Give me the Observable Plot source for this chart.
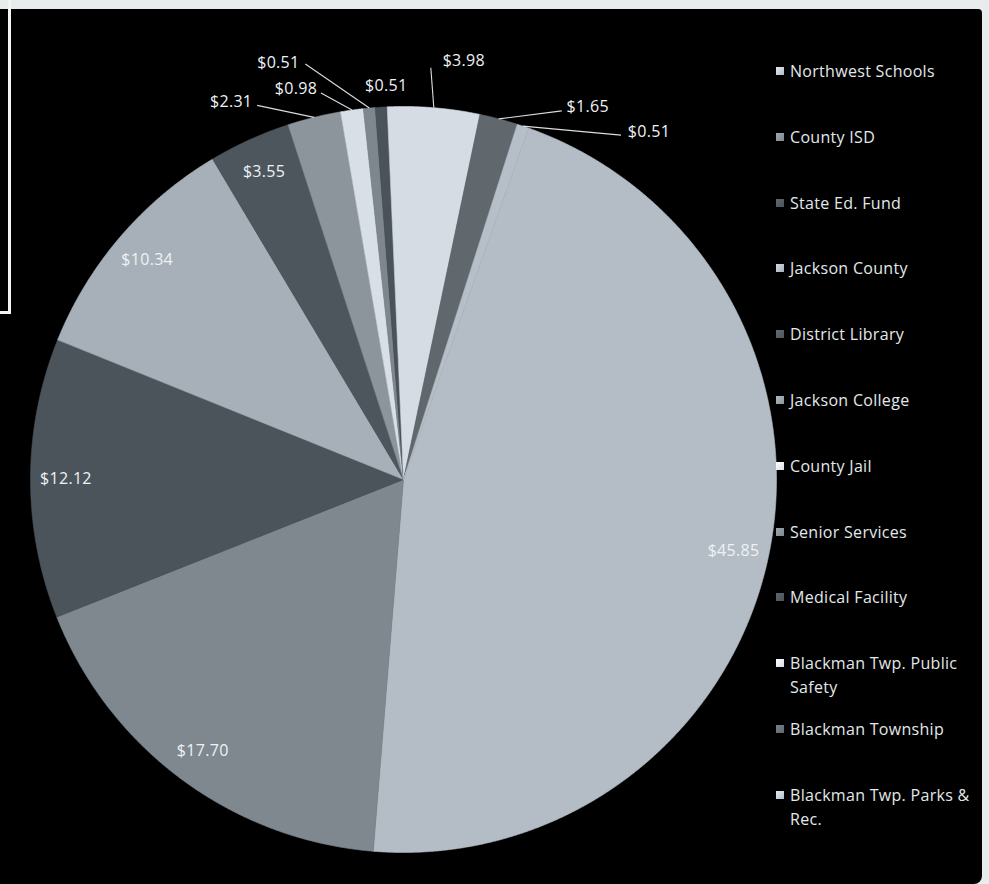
<!DOCTYPE html>
<html><head><meta charset="utf-8">
<script src="https://cdn.jsdelivr.net/npm/d3@7"></script>
<script src="https://cdn.jsdelivr.net/npm/@observablehq/plot@0.6"></script>
<style>
html,body{margin:0;padding:0;background:#000;overflow:hidden}
#wrap{position:relative;width:989px;height:884px;background:#e9ecec;overflow:hidden}
#panel{position:absolute;left:0;top:9px;width:982px;height:875px;background:#000;border-bottom-right-radius:8px;border-top-right-radius:4px}
#box{position:absolute;left:-6px;top:-6px;width:11px;height:314px;border:3px solid #f4f4f4}
#chart{position:absolute;left:0;top:0}
#legend{position:absolute;left:0;top:0;font-family:"Open Sans",sans-serif;font-size:16px;line-height:24px;color:#e3e8eb;letter-spacing:0.3px}
.item{position:absolute;left:776px;width:200px;display:flex;align-items:flex-start}
.sw{width:8px;height:8px;margin-top:8px;margin-right:6px;flex:none}
.lab{white-space:pre-line}
</style></head><body>
<div id="wrap"><div id="panel"></div><div id="box"></div><div id="chart"></div><div id="legend"></div></div>
<script>
// ---- data ----
const categories = ["Northwest Schools","County ISD","State Ed. Fund","Jackson County","District Library","Jackson College","County Jail","Senior Services","Medical Facility","Blackman Twp. Public Safety","Blackman Township","Blackman Twp. Parks & Rec."];
const values = [45.85, 17.70, 12.12, 10.34, 3.55, 2.31, 0.98, 0.51, 0.51, 3.98, 1.65, 0.51];
const colors = ["#b4bdc5","#7f888e","#4b545a","#a7b0b8","#4d565c","#8c959c","#d8dfe6","#7e878e","#4a5359","#d5dce3","#60686e","#b6bfc7"];
const legendLabels = ["Northwest Schools","County ISD","State Ed. Fund","Jackson County","District Library","Jackson College","County Jail","Senior Services","Medical Facility","Blackman Twp. Public\nSafety","Blackman Township","Blackman Twp. Parks &\nRec."];

// ---- layout (pixels) ----
const W = 989, H = 884, cx = 403, cy = 479, R = 373;
const startDeg = 19.6;
const insideR = 0.905;
// outside labels: [label dx, label dy, leader end dx, leader end dy] relative to slice edge (px); null = inside
const outside = [null,null,null,null,null,
  [-83,-15,-57,-12],
  [-56,-21,-31,-17],
  [-91,-45,-64,-44],
  [5,-21,null,null],
  [30,-47,-3,-40],
  [89,-12,63,-8],
  [126,6,98,9]];

const rows = categories.map((c,i)=>({name:c, value:values[i], color:colors[i], i}));
const a0 = startDeg*Math.PI/180;
const arcs = d3.pie().sort(null).value(d=>d.value).startAngle(a0).endAngle(a0+2*Math.PI)(rows);

const poly = [];
arcs.forEach((a,k)=>{
  const n = Math.max(3, Math.ceil((a.endAngle-a.startAngle)/(0.2*Math.PI/180)));
  poly.push({x:0,y:0,k});
  for(let j=0;j<=n;j++){const t=a.startAngle+(a.endAngle-a.startAngle)*j/n; poly.push({x:Math.sin(t),y:Math.cos(t),k});}
  poly.push({x:0,y:0,k});
});

const labels = arcs.map((a,k)=>{
  const m=(a.startAngle+a.endAngle)/2, ex=Math.sin(m), ey=Math.cos(m);
  const o=outside[k];
  if(!o) return {x:ex*insideR,y:ey*insideR,t:"$"+a.data.value.toFixed(2),k};
  return {x:ex+o[0]/R,y:ey-o[1]/R,t:"$"+a.data.value.toFixed(2),k,
    x1:ex,y1:ey,x2:o[2]==null?null:ex+o[2]/R,y2:o[3]==null?null:ey-o[3]/R};
});
const leaders = labels.filter(d=>d.x2!=null);

const chart = Plot.plot({
  width:W, height:H, margin:0,
  x:{domain:[-cx/R,(W-cx)/R], range:[0,W], axis:null},
  y:{domain:[(cy-H)/R, cy/R], range:[H,0], axis:null},
  color:{type:"identity"},
  style:{background:"transparent", fontFamily:"'Open Sans',sans-serif", letterSpacing:"0.3px", overflow:"visible"},
  marks:[
    Plot.line(poly,{x:"x",y:"y",z:"k",fill:d=>colors[d.k],stroke:d=>colors[d.k],strokeWidth:0.6,curve:"linear"}),
    Plot.link(leaders,{x1:"x1",y1:"y1",x2:"x2",y2:"y2",stroke:"#d9dee2",strokeWidth:1.1}),
    Plot.text(labels,{x:"x",y:"y",text:"t",fill:"#eef2f5",fontSize:16})
  ]
});
document.getElementById("chart").appendChild(chart);

const leg = document.getElementById("legend");
legendLabels.forEach((l,i)=>{
  const it=document.createElement("div"); it.className="item"; it.style.top=(59+i*65.8)+"px";
  const sw=document.createElement("div"); sw.className="sw";
  sw.style.background=`linear-gradient(135deg, ${d3.color(colors[i]).brighter(0.6)}, ${colors[i]})`;
  const tx=document.createElement("div"); tx.className="lab"; tx.textContent=l;
  it.appendChild(sw); it.appendChild(tx); leg.appendChild(it);
});
</script>
</body></html>
